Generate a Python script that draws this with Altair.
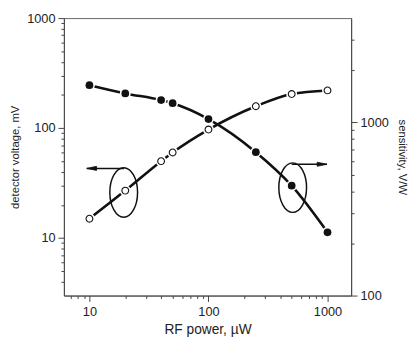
import altair as alt
import pandas as pd

# ---- data ----
power = [10, 20, 40, 50, 100, 250, 500, 1000]          # RF power, uW
voltage = [15, 27, 50, 60, 97, 158, 204, 220]           # detector voltage, mV (open circles, left axis)
sensitivity = [1640, 1470, 1345, 1290, 1045, 673, 431, 232]  # sensitivity, V/W (filled, right axis)

x_ticks = [7, 8, 9, 10, 20, 30, 40, 50, 60, 70, 80, 90,
           100, 200, 300, 400, 500, 600, 700, 800, 900, 1000]
x_labels = [10, 100, 1000]
left_ticks = [4, 5, 6, 7, 8, 9, 10, 20, 30, 40, 50, 60, 70, 80, 90,
              100, 200, 300, 400, 500, 600, 700, 800, 900, 1000]
left_labels = [10, 100, 1000]
right_ticks = [100, 200, 300, 400, 500, 600, 700, 800, 900, 1000, 2000, 3000]
right_labels = [100, 1000]

# annotation marks (ellipse centre and arrow ends, data coordinates)
ell_left_x, ell_left_y = [19.4], [26]
ell_right_x, ell_right_y = [510], [420]
arrow_left_x, arrow_left_y = [19.5, 9.5], [43, 43]
arrow_right_x, arrow_right_y = [500, 990], [573, 573]

FONT = "Liberation Sans"
INK = "#111"
AX = "#444"

def lab_expr(vals):
    return f"indexof({vals}, datum.value) >= 0 ? format(datum.value, 'd') : ''"

def tick_size(vals):
    return {"condition": {"test": f"indexof({vals}, datum.value) >= 0", "value": 6}, "value": 3}

x_enc = alt.X("x:Q",
              scale=alt.Scale(type="log", domain=[6.1, 1580], nice=False),
              axis=alt.Axis(title="RF power, µW", values=x_ticks, labelExpr=lab_expr(x_labels),
                            tickSize=tick_size(x_labels), labelOverlap=False, labelFlush=False,
                            titlePadding=5, labelPadding=4, titleFontSize=14))

yl_enc = alt.Y("y:Q",
               scale=alt.Scale(type="log", domain=[3, 1000], nice=False),
               axis=alt.Axis(title="detector voltage, mV", orient="left", values=left_ticks,
                             labelExpr=lab_expr(left_labels), tickSize=tick_size(left_labels),
                             labelOverlap=False, titlePadding=6, labelPadding=3,
                             titleFontSize=11.5))

yr_enc = alt.Y("y:Q",
               scale=alt.Scale(type="log", domain=[100, 4000], nice=False),
               axis=alt.Axis(title="sensitivity, V/W", orient="right", values=right_ticks,
                             labelExpr=lab_expr(right_labels), tickSize=tick_size(right_labels),
                             labelOverlap=False, titlePadding=8, labelPadding=3,
                             titleFontSize=11.5))

df_v = pd.DataFrame({"x": power, "y": voltage})
df_s = pd.DataFrame({"x": power, "y": sensitivity})

k = 0.5523
a = 0.56
ellipse_path = (f"M 0 -1 C {k*a:.3f} -1 {a} {-k:.3f} {a} 0 C {a} {k:.3f} {k*a:.3f} 1 0 1 "
                f"C {-k*a:.3f} 1 {-a} {k:.3f} {-a} 0 C {-a} {-k:.3f} {-k*a:.3f} -1 0 -1 Z")
head_left = "M -1 0 L 1 -0.42 L 1 0.42 Z"
head_right = "M 1 0 L -1 -0.42 L -1 0.42 Z"


def series(df, y_enc, filled, ell_x, ell_y, arr_x, arr_y, head, tip_dx):
    line = alt.Chart(df).mark_line(color=INK, strokeWidth=2.6, interpolate="monotone").encode(x=x_enc, y=y_enc)
    halo = alt.Chart(df).mark_point(shape="circle", filled=True, color="white", opacity=1,
                                    size=125).encode(x=x_enc, y=y_enc)
    if filled:
        pts = alt.Chart(df).mark_point(shape="circle", filled=True, color=INK, opacity=1,
                                       size=62).encode(x=x_enc, y=y_enc)
    else:
        pts = alt.Chart(df).mark_point(shape="circle", filled=True, fill="white", stroke=INK,
                                       strokeWidth=1.1, opacity=1, size=48).encode(x=x_enc, y=y_enc)
    ell = alt.Chart(pd.DataFrame({"x": ell_x, "y": ell_y})).mark_point(
        shape=ellipse_path, filled=False, stroke=INK, strokeWidth=1.5, opacity=1, size=2550
    ).encode(x=x_enc, y=y_enc)
    arr = alt.Chart(pd.DataFrame({"x": arr_x, "y": arr_y})).mark_line(
        color=INK, strokeWidth=1.5).encode(x=x_enc, y=y_enc)
    tip = alt.Chart(pd.DataFrame({"x": [arr_x[1]], "y": [arr_y[1]]})).mark_point(
        shape=head, filled=True, fill=INK, stroke=INK, strokeWidth=0.8, opacity=1, size=100,
        xOffset=tip_dx).encode(x=x_enc, y=y_enc)
    return alt.layer(line, halo, pts, ell, arr, tip)


left = series(df_v, yl_enc, False, ell_left_x, ell_left_y, arrow_left_x, arrow_left_y, head_left, 5)
right = series(df_s, yr_enc, True, ell_right_x, ell_right_y, arrow_right_x, arrow_right_y, head_right, -5)

chart = (
    alt.layer(left, right)
    .resolve_scale(y="independent")
    .properties(width=293, height=283,
                autosize=alt.AutoSizeParams(type="none"),
                padding={"left": 57, "top": 7, "right": 59, "bottom": 41},
                background="white")
    .configure_view(stroke="#666", strokeWidth=1)
    .configure_axis(grid=False, domainColor=AX, tickColor=AX, domainWidth=1, tickWidth=1,
                    labelFont=FONT, titleFont=FONT, labelFontSize=13, titleFontSize=13,
                    labelColor="#222", titleColor="#222", titleFontWeight="normal")
)

chart.save("out.html", embed_options={"renderer": "svg", "actions": False})
